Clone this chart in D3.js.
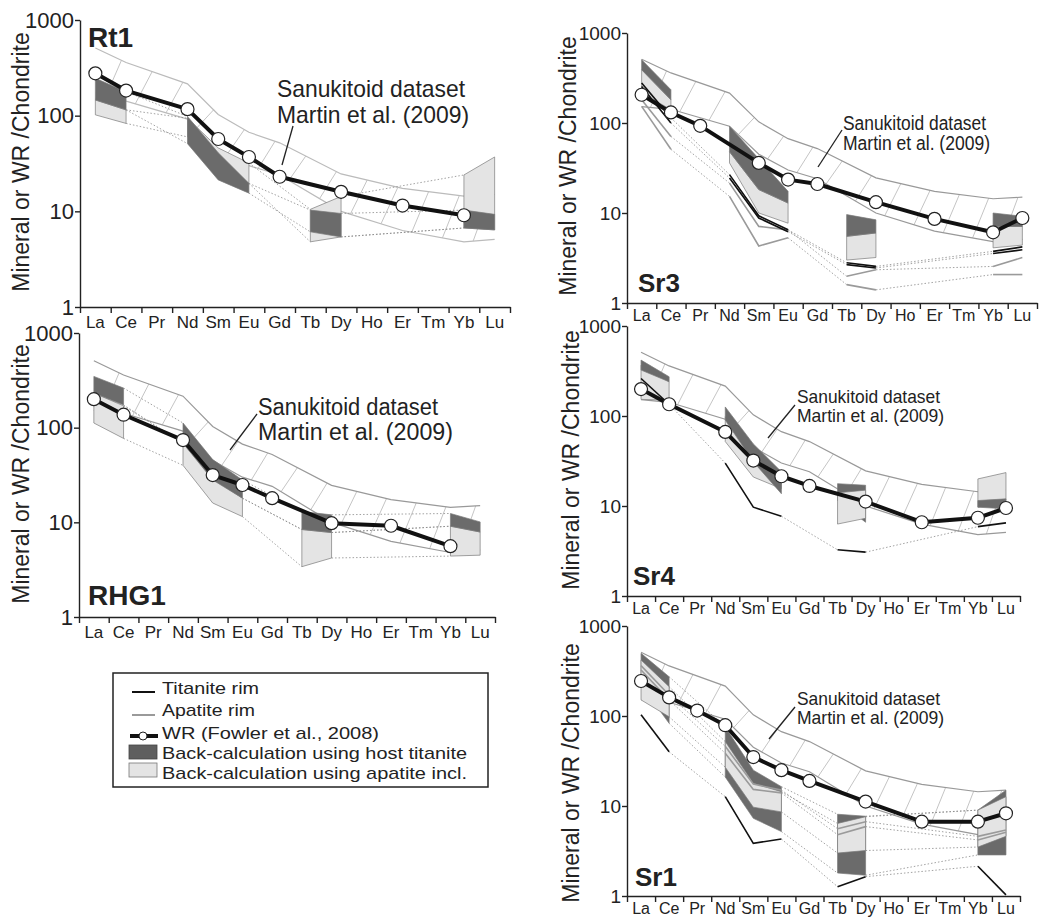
<!DOCTYPE html>
<html>
<head>
<meta charset="utf-8">
<script src="https://cdn.jsdelivr.net/npm/d3@7"></script>
<style>
body { margin: 0; background: #fff; }
text { font-family: "Liberation Sans", Arial, sans-serif; fill: #222; }
</style>
</head>
<body>
<svg id="chart" width="1040" height="924"></svg>
<script>
// REE order on the x axis
const elements = ["La","Ce","Pr","Nd","Sm","Eu","Gd","Tb","Dy","Ho","Er","Tm","Yb","Lu"];
// elements analysed in the minerals, and how they are joined
const analysed = ["La","Ce","Nd","Sm","Eu","Tb","Dy","Yb","Lu"];
const groups = [["La","Ce"],["Nd","Sm","Eu"],["Tb","Dy"],["Yb","Lu"]];
const yTicks = [1, 10, 100, 1000];

// sanukitoid field (Martin et al. 2009)
const sanukEls  = ["La","Ce","Nd","Sm","Eu","Gd","Dy","Er","Yb","Lu"];
const sanukHigh = [510, 360, 215, 103, 67, 52, 24.6, 17.4, 14.4, 15];
const sanukLow  = [152, 142, 92, 45, 30, 24, 10, 6.3, 4.8, 5.1];

// ---- Rt1 ----  (band values in `analysed` order)
const rt1WR = [277, 183, null, 117, 57, 37, 23, null, 16, null, 11.5, null, 9.1, null];
const rt1Bands = [
  {calc: "apatite",  hi: [146, 115, 94, 46, 32, 10.5, 14.3, 24, 37], lo: [102, 83, 60, 30, 19.6, 4.8, 5.4, 6.7, 6.4]},
  {calc: "titanite", hi: [246, 178, 98, 41, 19.6, 10.3, 9.5, 10.3, 9.3], lo: [146, 115, 51, 21.3, 15.5, 6.1, 5.4, 6.7, 6.4]}
];
const rt1Tit = [];
const rt1Ap = [];

// ---- RHG1 ----
const rhgWR = [200, 137, null, 74, 31.6, 24.8, 18, null, 9.8, null, 9.2, null, 5.6, null];
const rhgBands = [
  {calc: "apatite",  hi: [232, 170, 68.5, 29, 18, 8.4, 7.8, 9.1, 7.9], lo: [112, 77, 40, 16, 11.5, 3.4, 4.2, 4.4, 4.5]},
  {calc: "titanite", hi: [348, 262, 112, 46, 28, 13, 12, 12.4, 10.1], lo: [232, 174, 68.5, 28, 18, 8.4, 7.8, 9.1, 7.9]}
];
const rhgTit = [];
const rhgAp = [];

// ---- Sr3 ----
const sr3WR = [206, 131, 93, null, 36, 23.5, 21, null, 13.2, null, 8.6, null, 6.1, 8.8];
const sr3Bands = [
  {calc: "apatite",  hi: [391, 181, 48, 18.2, 12.9, 5.5, 6.0, 7.1, 7.1], lo: [215, 141, 36, 10, 7.7, 3.0, 3.2, 4.1, 4.4]},
  {calc: "titanite", hi: [505, 234, 92, 40, 17.4, 9.6, 8.4, 10, 9.2], lo: [391, 181, 48, 18.2, 12.9, 5.5, 6.0, 7.1, 7.1]}
];
const sr3Tit = [
  [278, 114, 26.7, 9.3, 6.5, 2.8, 2.55, 3.75, 4.2],
  [255, 100, 24.5, 8.8, 6.2, 2.67, 2.45, 3.55, 3.9]
];
const sr3Ap = [
  [181, 71, 21.5, 7.1, 6.5, 1.98, 2.34, 2.55, 3.2],
  [153, 51, 15.3, 4.3, 5.3, 1.6, 1.4, 2.07, 2.07]
];

// ---- Sr4 ----
const sr4WR = [199, 135, null, 66.5, 32, 21.4, 16.7, null, 11.2, null, 6.6, null, 7.4, 9.5];
const sr4Bands = [
  {calc: "titanite", hi: [null, null, null, null, null, 17.7, 17, null, null], lo: [null, null, null, null, null, 11.5, 6.6, null, null]},
  {calc: "apatite",  hi: [368, 240, 98, 42, 23, 14, 15, 20, 23.5], lo: [153, 150, 52, 21, 15.6, 6.3, 7.3, 9.7, 11.5]},
  {calc: "titanite", hi: [418, 273, 126, 49, 24, null, null, 11.5, 12], lo: [324, 240, 90, 31, 13.7, null, null, 9.7, 9.3]}
];
const sr4Tit = [
  [261, 135, 30, 9.7, 7.7, 3.26, 3.07, 5.9, 6.5]
];
const sr4Ap = [];

// ---- Sr1 ----
const sr1WR = [245, 161, 115, 79, 35, 25, 19, null, 11.2, null, 6.7, null, 6.7, 8.3];
const sr1Bands = [
  {calc: "titanite", hi: [497, 273, 76, 25, 16.4, 8.1, 7.7, 9.0, 15], lo: [221, 83, 21, 7.3, 5.2, 1.8, 1.7, 2.86, 2.86]},
  {calc: "apatite",  hi: [419, 212, 52, 17.9, 14.4, 6.4, 7.6, 9.0, 12.7], lo: [151, 98, 27, 9.7, 8.6, 3.0, 3.2, 3.5, 4.6]}
];
const sr1Tit = [
  [103, 40, 12.7, 3.85, 4.3, 1.27, 1.64, 2.14, 1.03]
];
const sr1Ap = [
  [363, 171, 46, 17.5, 15, 5.6, 6.7, 4.6, 5.4],
  [324, 151, 38.5, 15.3, 14, 4.8, 5.9, 4.2, 5.1]
];

const noteLines = ["Sanukitoid dataset", "Martin et al. (2009)"];
const legendItems = ["Titanite rim", "Apatite rim", "WR (Fowler et al., 2008)",
  "Back-calculation using host titanite", "Back-calculation using apatite incl."];

const fills = {titanite: "#6b6b6b", apatite: "#e4e4e4"};

const panels = [
  {name: "Rt1", x0: 80, x1: 510, yTop: 20, yBot: 307, tickFs: 22, labFs: 17, labPad: 9,
   titleX: 23, titleY: 162, wr: rt1WR, bands: rt1Bands, tit: rt1Tit, ap: rt1Ap, bandLinks: true,
   lab: [88, 47, 28], sanukCol: "#bbb",
   note: {x: 277, y: [97, 123], fs: 24, w: [188, 192], lead: [293, 126, 282, 165]}},
  {name: "RHG1", x0: 79, x1: 495, yTop: 333, yBot: 617, tickFs: 22, labFs: 17, labPad: 9,
   titleX: 23, titleY: 474, wr: rhgWR, bands: rhgBands, tit: rhgTit, ap: rhgAp, bandLinks: true,
   lab: [88, 605, 28], sanukCol: "#999",
   note: {x: 258, y: [415, 440], fs: 23, w: [180, 195], lead: [257, 414, 230, 450]}},
  {name: "Sr3", x0: 627, x1: 1037, yTop: 33, yBot: 303, tickFs: 19, labFs: 16, labPad: 7,
   titleX: 570, titleY: 166, wr: sr3WR, bands: sr3Bands, tit: sr3Tit, ap: sr3Ap, bandLinks: false,
   lab: [638, 292, 26], sanukCol: "#999",
   note: {x: 843, y: [130, 150], fs: 20, w: [143, 147], lead: [842, 130, 818, 167]}},
  {name: "Sr4", x0: 627, x1: 1020, yTop: 326, yBot: 596, tickFs: 19, labFs: 16, labPad: 7,
   titleX: 573, titleY: 460, wr: sr4WR, bands: sr4Bands, tit: sr4Tit, ap: sr4Ap, bandLinks: false,
   lab: [633, 585, 26], sanukCol: "#999",
   note: {x: 797, y: [403, 422], fs: 19, w: [143, 147], lead: [795, 405, 768, 438]}},
  {name: "Sr1", x0: 627, x1: 1020, yTop: 626, yBot: 896, tickFs: 19, labFs: 16, labPad: 7,
   titleX: 573, titleY: 773, wr: sr1WR, bands: sr1Bands, tit: sr1Tit, ap: sr1Ap, bandLinks: true,
   lab: [635, 886, 26], sanukCol: "#999",
   note: {x: 797, y: [705, 724], fs: 19, w: [143, 147], lead: [795, 707, 769, 739]}}
];

const svg = d3.select("#chart");
const line = d3.line();

function yAt(pts, px) {
  for (let i = 0; i < pts.length - 1; i++) {
    const [ax, ay] = pts[i], [bx, by] = pts[i + 1];
    if (px >= ax && px <= bx) return ay + (by - ay) * (px - ax) / (bx - ax);
  }
  return null;
}

function drawPanel(p) {
  const x = d3.scaleBand().domain(elements).range([p.x0, p.x1]);
  const bw = x.bandwidth();
  const cx = e => x(e) + bw / 2;
  const y = d3.scaleLog().domain([1, 1000]).range([p.yBot, p.yTop]);
  const g = svg.append("g");
  const ai = e => analysed.indexOf(e);

  // sanukitoid field
  const up = sanukEls.map((e, i) => [cx(e), y(sanukHigh[i])]);
  const lo = sanukEls.map((e, i) => [cx(e), y(sanukLow[i])]);
  const sg = g.append("g");
  for (let i = 0; i < 13; i++) {
    const xa = cx(elements[i]) + 0.3 * bw, xb = xa + 0.55 * bw;
    const ya = yAt(lo, xa), yb = yAt(up, xb);
    if (ya == null || yb == null) continue;
    sg.append("line").attr("x1", xa).attr("y1", ya).attr("x2", xb).attr("y2", yb)
      .attr("stroke", "#b5b5b5").attr("stroke-width", 0.8);
  }
  [up, lo].forEach(pts => sg.append("path").attr("d", line(pts))
    .attr("fill", "none").attr("stroke", p.sanukCol).attr("stroke-width", 1.2));

  // back-calculated melt ranges
  p.bands.forEach(b => {
    groups.forEach(gr => {
      const his = gr.map(e => b.hi[ai(e)]), los = gr.map(e => b.lo[ai(e)]);
      if (his.concat(los).some(v => v == null)) return;
      const pts = gr.map((e, k) => [cx(e), y(his[k])])
        .concat(gr.map((e, k) => [cx(e), y(los[k])]).reverse());
      g.append("path").attr("d", line(pts) + "Z")
        .attr("fill", fills[b.calc]).attr("stroke", "#7a7a7a").attr("stroke-width", 0.7);
    });
  });

  // dotted links between analysed groups
  const links = [];
  if (p.bandLinks) p.bands.forEach(b => { links.push(b.hi); links.push(b.lo); });
  p.tit.forEach(r => links.push(r));
  p.ap.forEach(r => links.push(r));
  links.forEach(vals => {
    for (let k = 0; k < groups.length - 1; k++) {
      const e1 = groups[k][groups[k].length - 1], e2 = groups[k + 1][0];
      const v1 = vals[ai(e1)], v2 = vals[ai(e2)];
      if (v1 == null || v2 == null) continue;
      g.append("line").attr("x1", cx(e1)).attr("y1", y(v1)).attr("x2", cx(e2)).attr("y2", y(v2))
        .attr("stroke", "#8a8a8a").attr("stroke-width", 0.8).attr("stroke-dasharray", "1.5,2");
    }
  });

  // rim analyses
  const drawRims = (rims, col) => rims.forEach(vals => {
    groups.forEach(gr => {
      g.append("path").attr("d", line(gr.map(e => [cx(e), y(vals[ai(e)])])))
        .attr("fill", "none").attr("stroke", col).attr("stroke-width", 1.6);
    });
  });
  drawRims(p.ap, "#9a9a9a");
  drawRims(p.tit, "#111");

  // whole rock
  const wr = elements.map((e, i) => ({e, v: p.wr[i]})).filter(d => d.v != null);
  g.append("path").attr("d", line(wr.map(d => [cx(d.e), y(d.v)])))
    .attr("fill", "none").attr("stroke", "#111").attr("stroke-width", 4).attr("stroke-linejoin", "round");
  g.selectAll(".wr").data(wr).enter().append("circle")
    .attr("cx", d => cx(d.e)).attr("cy", d => y(d.v)).attr("r", 6.5)
    .attr("fill", "#fff").attr("stroke", "#222").attr("stroke-width", 1.2);

  // axes
  const ya = g.append("g").attr("transform", `translate(${p.x0},0)`)
    .call(d3.axisLeft(y).tickValues(yTicks).tickFormat(d3.format("d")).tickSize(5).tickSizeOuter(0).tickPadding(1));
  ya.selectAll("text").attr("font-size", p.tickFs).attr("font-family", "Liberation Sans, Arial, sans-serif").attr("fill", "#222");
  const xl = d3.scaleLinear().domain([0, 14]).range([p.x0, p.x1]);
  const xa = g.append("g").attr("transform", `translate(0,${p.yBot})`)
    .call(d3.axisBottom(xl).tickValues(d3.range(15)).tickFormat("").tickSize(6).tickSizeOuter(0));
  const xlab = g.append("g").attr("transform", `translate(0,${p.yBot})`)
    .call(d3.axisBottom(x).tickSize(0).tickPadding(p.labPad));
  xlab.select(".domain").remove();
  xlab.selectAll("text").attr("font-size", p.labFs).attr("font-family", "Liberation Sans, Arial, sans-serif").attr("fill", "#222");
  [ya, xa].forEach(a => {
    a.select(".domain").attr("stroke", "#222").attr("stroke-width", 1.4);
    a.selectAll(".tick line").attr("stroke", "#222").attr("stroke-width", 1.4);
  });

  // titles and labels
  g.append("text").attr("transform", `translate(${p.titleX},${p.titleY}) rotate(-90)`)
    .attr("text-anchor", "middle").attr("dominant-baseline", "middle")
    .attr("font-size", 23).text("Mineral or WR /Chondrite");
  g.append("text").attr("x", p.lab[0]).attr("y", p.lab[1]).attr("font-size", p.lab[2])
    .attr("font-weight", "bold").attr("fill", "#111").text(p.name);
  noteLines.forEach((t, i) => g.append("text").attr("x", p.note.x).attr("y", p.note.y[i])
    .attr("font-size", p.note.fs).attr("textLength", p.note.w[i]).attr("lengthAdjust", "spacingAndGlyphs").text(t));
  const L = p.note.lead;
  g.append("line").attr("x1", L[0]).attr("y1", L[1]).attr("x2", L[2]).attr("y2", L[3])
    .attr("stroke", "#222").attr("stroke-width", 1.3);
}

panels.forEach(drawPanel);

// legend
const lg = svg.append("g");
lg.append("rect").attr("x", 113).attr("y", 673).attr("width", 375).attr("height", 114)
  .attr("fill", "#fff").attr("stroke", "#222").attr("stroke-width", 1.5);
const legBase = [694, 716, 739, 759, 779];
const legW = [97, 93, 217, 305, 305];
legendItems.forEach((t, i) => {
  lg.append("text").attr("x", 162).attr("y", legBase[i]).attr("font-size", 17)
    .attr("textLength", legW[i]).attr("lengthAdjust", "spacingAndGlyphs").text(t);
});
lg.append("line").attr("x1", 132).attr("x2", 155).attr("y1", 692).attr("y2", 692).attr("stroke", "#111").attr("stroke-width", 2);
lg.append("line").attr("x1", 132).attr("x2", 155).attr("y1", 715).attr("y2", 715).attr("stroke", "#9a9a9a").attr("stroke-width", 2);
lg.append("line").attr("x1", 130).attr("x2", 158).attr("y1", 736).attr("y2", 736).attr("stroke", "#111").attr("stroke-width", 4);
lg.append("circle").attr("cx", 143).attr("cy", 736).attr("r", 4).attr("fill", "#fff").attr("stroke", "#222").attr("stroke-width", 1);
lg.append("rect").attr("x", 129).attr("y", 745).attr("width", 28).attr("height", 14)
  .attr("fill", "#5f5f5f").attr("stroke", "#444").attr("stroke-width", 0.8);
lg.append("rect").attr("x", 129).attr("y", 763).attr("width", 28).attr("height", 14)
  .attr("fill", fills.apatite).attr("stroke", "#777").attr("stroke-width", 0.8);
</script>
</body>
</html>
